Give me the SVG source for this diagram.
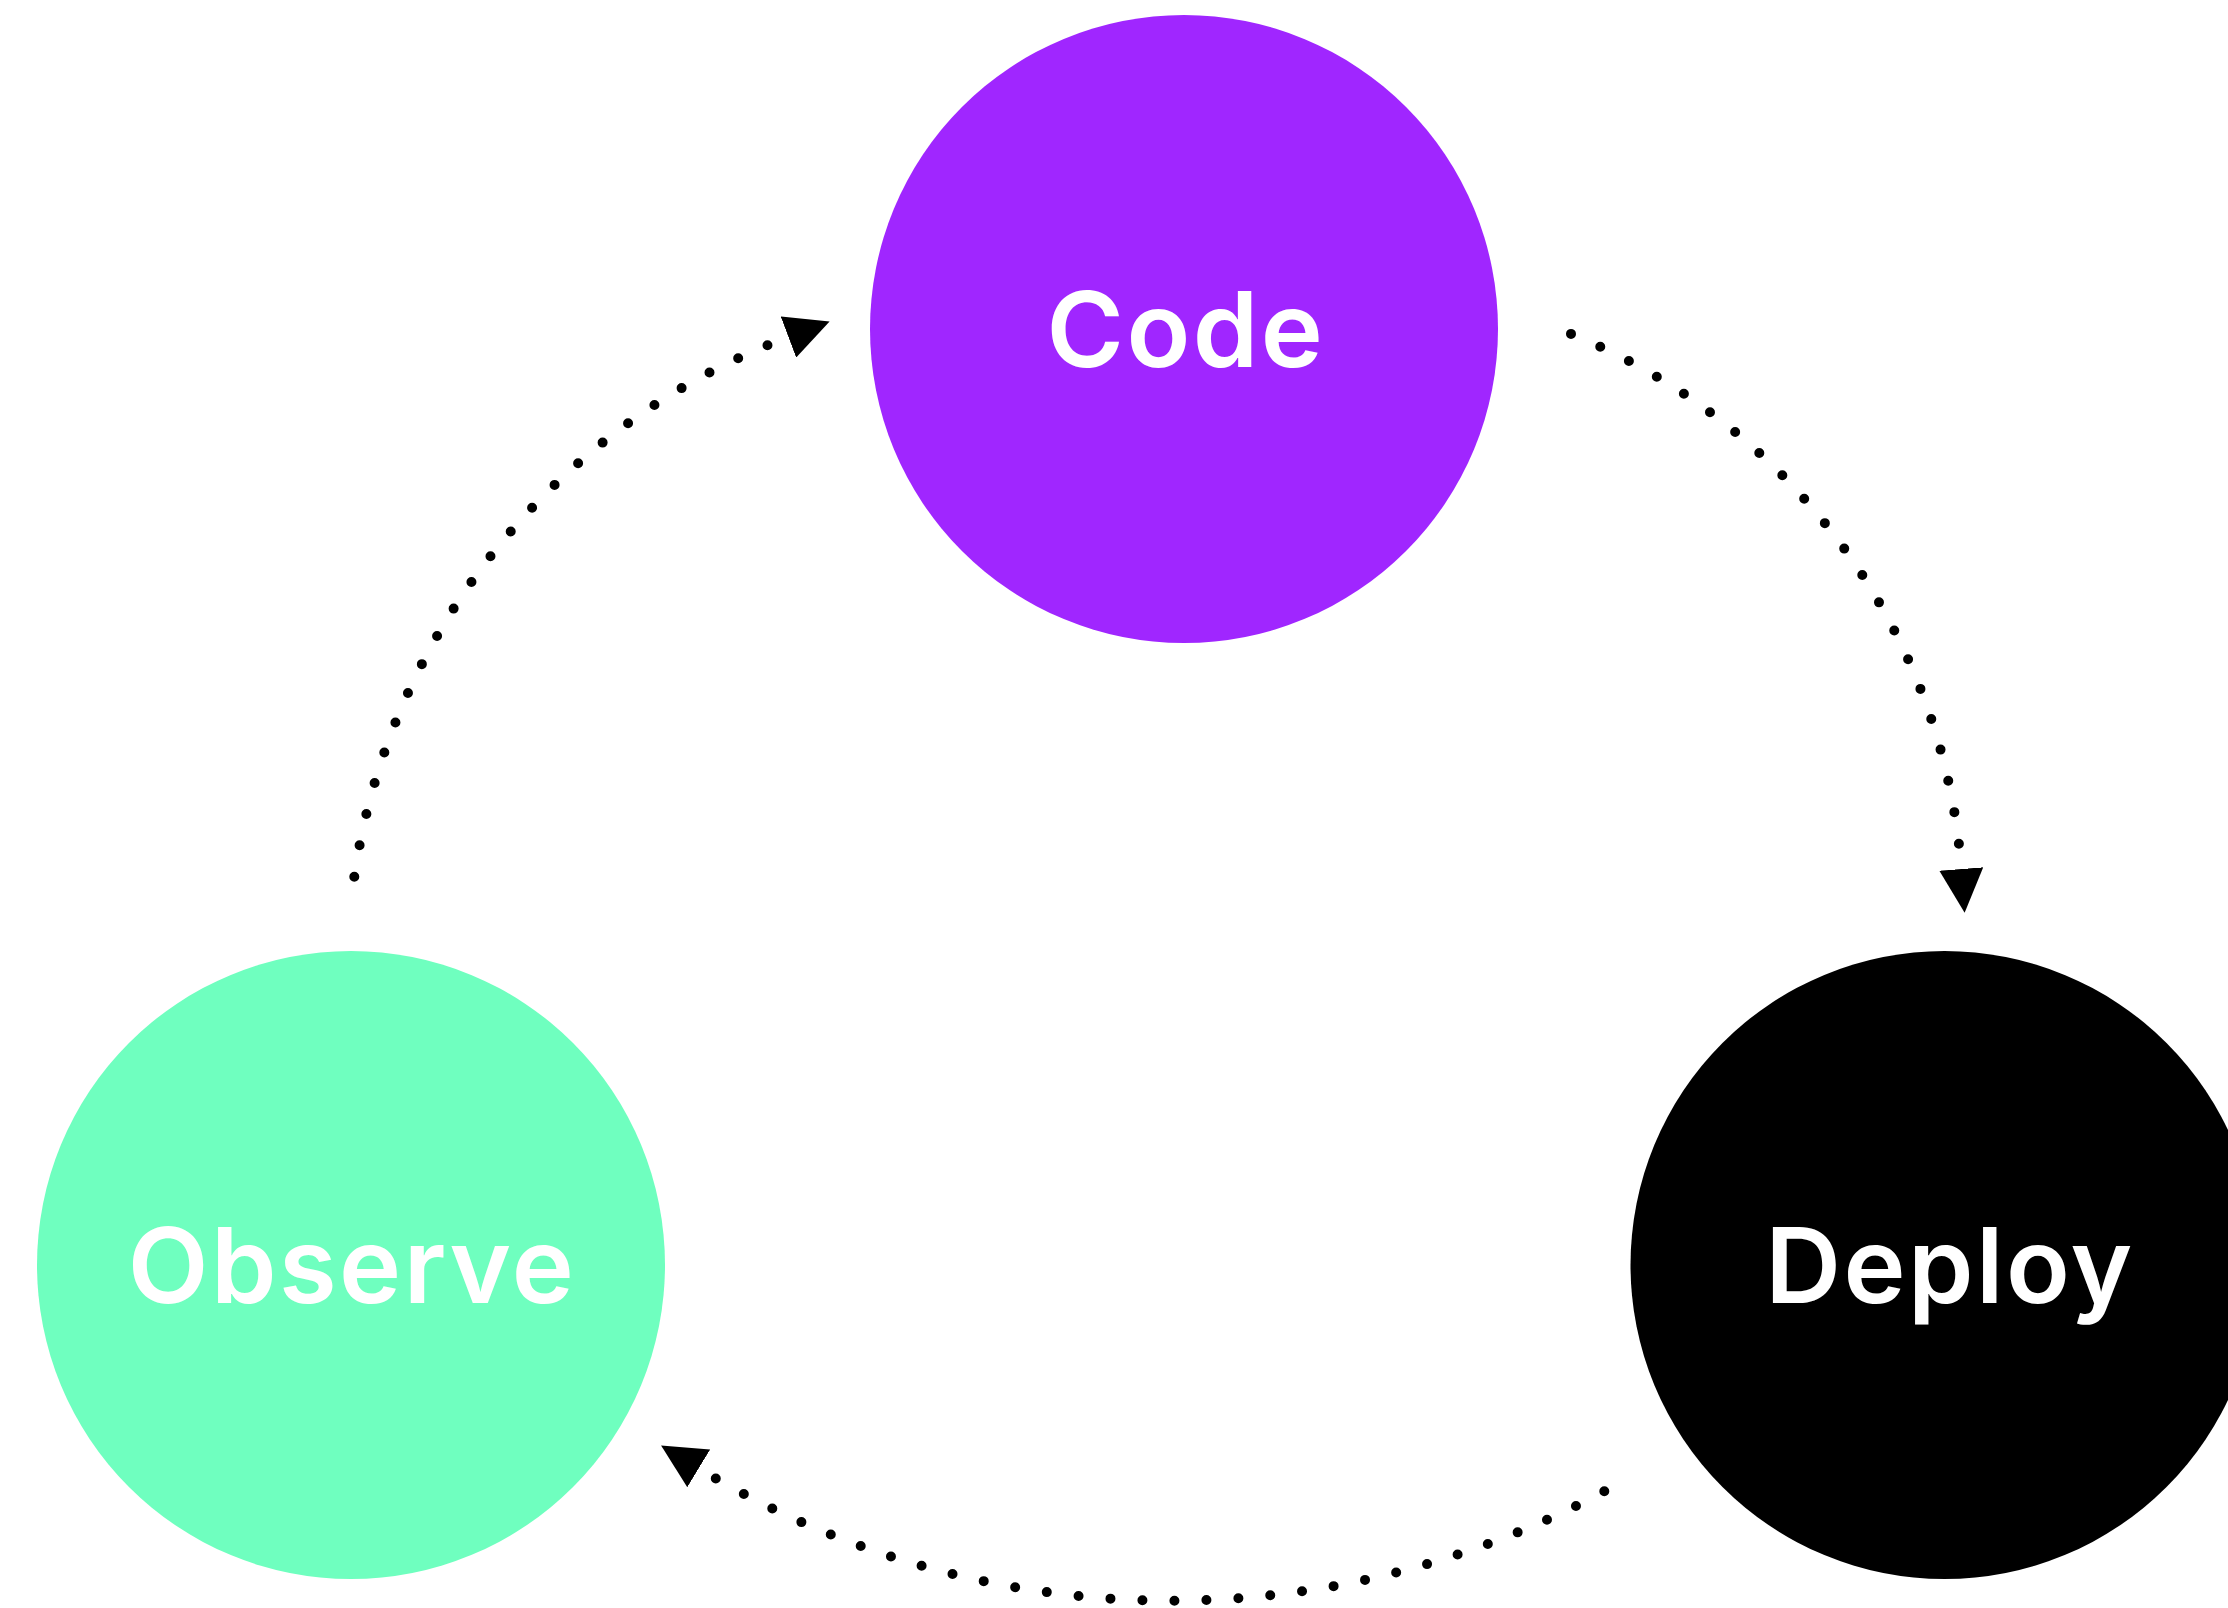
<svg xmlns="http://www.w3.org/2000/svg" width="2228" height="1608" viewBox="0 0 2228 1608">
  <style>
    .label { font-family: Inter, "Liberation Sans", sans-serif; font-weight: 600; font-size: 105px; fill: #ffffff; text-anchor: middle; letter-spacing: 2.5px; }
    .flow { fill: none; stroke: #000000; stroke-width: 10; stroke-linecap: round; stroke-dasharray: 0 32; marker-end: url(#head); }
  </style>
  <defs>
    <marker id="head" markerUnits="userSpaceOnUse" markerWidth="44" markerHeight="44" viewBox="0 0 44 44" refX="0" refY="22" orient="auto">
      <path d="M0,0 L44,22 L0,44 Z" fill="#000000"/>
    </marker>
  </defs>
  <rect width="2228" height="1608" fill="#ffffff"/>

  <!-- dotted cycle arrows -->
  <g id="connectors">
    <path id="observe-to-code" class="flow" d="M354.3,876.7 A680,680 0 0 1 788.4,337"/>
    <path id="code-to-deploy" class="flow" d="M1571,333.9 A629,629 0 0 1 1961.3,869"/>
    <path id="deploy-to-observe" class="flow" d="M1604.3,1491.3 A911,911 0 0 1 698.7,1468.4"/>
  </g>

  <g id="code">
    <circle cx="1184" cy="329" r="314" fill="#A026FF"/>
    <text class="label" x="1186" y="366.5">Code</text>
  </g>

  <g id="observe">
    <circle cx="351" cy="1265" r="314" fill="#6FFFBF"/>
    <text class="label" x="352" y="1303">Observe</text>
  </g>

  <g id="deploy">
    <circle cx="1944.5" cy="1265" r="314" fill="#000000"/>
    <text class="label" x="1950" y="1303">Deploy</text>
  </g>
</svg>
